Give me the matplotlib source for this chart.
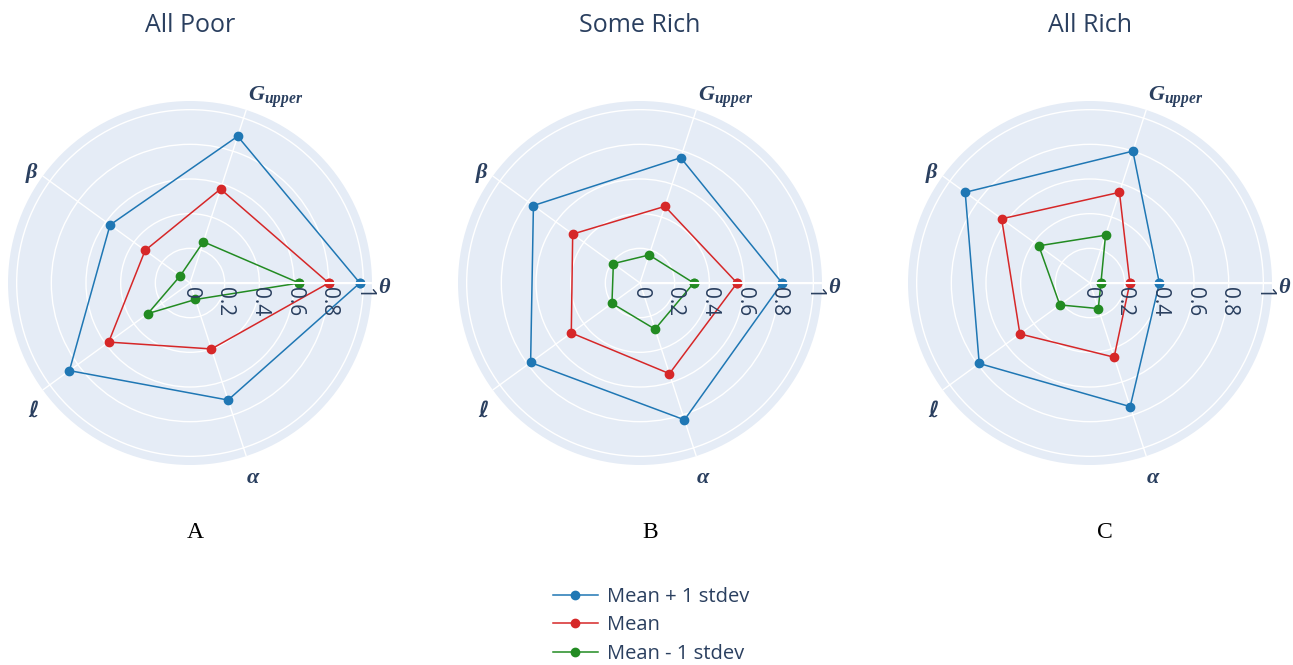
import numpy as np
import matplotlib
matplotlib.use('Agg')
import matplotlib.pyplot as plt
from matplotlib.lines import Line2D

# spoke labels (bold italic math)
plt.rcParams['mathtext.fontset'] = 'custom'
plt.rcParams['mathtext.it'] = 'Liberation Serif:italic:bold'
plt.rcParams['mathtext.rm'] = 'Liberation Serif:bold'

categories = [r'$\theta$', r'$G_{upper}$', r'$\beta$', '\u2113', r'$\alpha$']
panel_titles = ['All Poor', 'Some Rich', 'All Rich']
panel_letters = ['A', 'B', 'C']
series_names = ['Mean + 1 stdev', 'Mean', 'Mean - 1 stdev']
radial_ticks = [0, 0.2, 0.4, 0.6, 0.8, 1]

all_poor_plus = [0.98, 0.89, 0.57, 0.86, 0.71]
all_poor_mean = [0.80, 0.57, 0.32, 0.58, 0.40]
all_poor_minus = [0.63, 0.25, 0.07, 0.30, 0.10]

some_rich_plus = [0.82, 0.76, 0.76, 0.78, 0.83]
some_rich_mean = [0.56, 0.465, 0.48, 0.49, 0.55]
some_rich_minus = [0.31, 0.17, 0.19, 0.20, 0.28]

all_rich_plus = [0.40, 0.80, 0.89, 0.79, 0.75]
all_rich_mean = [0.23, 0.55, 0.63, 0.50, 0.45]
all_rich_minus = [0.063, 0.29, 0.365, 0.215, 0.155]

panels = [
    [all_poor_plus, all_poor_mean, all_poor_minus],
    [some_rich_plus, some_rich_mean, some_rich_minus],
    [all_rich_plus, all_rich_mean, all_rich_minus],
]

colors = ['#1f77b4', '#d62728', '#228b22']
text_color = '#2a3f5f'
bg_color = '#e5ecf6'
rmax = 1.05

W, H = 1293, 665
fig = plt.figure(figsize=(W / 100, H / 100), dpi=100)

centers_x = [190, 640, 1090]
center_y = 283
radius = 182

angles = np.deg2rad(np.arange(len(categories)) * 360 / len(categories))

# alignment of the spoke labels around the circle
label_align = [('left', 'center', (4, -3)),
               ('left', 'bottom', (1, 0)),
               ('right', 'center', (-3, 2)),
               ('right', 'top', (-3, -7)),
               ('left', 'top', (0, -7))]

for i, (cx, data) in enumerate(zip(centers_x, panels)):
    ax = fig.add_axes([(cx - radius) / W, (H - center_y - radius) / H,
                       2 * radius / W, 2 * radius / H], projection='polar')
    ax.set_facecolor(bg_color)
    ax.spines['polar'].set_visible(False)
    ax.set_ylim(0, rmax)
    ax.set_yticks(radial_ticks[1:])
    ax.set_yticklabels([])
    ax.set_xticks(angles)
    ax.set_xticklabels([])
    ax.grid(color='white', linewidth=1.0)
    ax.tick_params(length=0)

    t_closed = np.append(angles, angles[0])
    for vals, col in zip(data, colors):
        v = np.append(vals, vals[0])
        ax.plot(t_closed, v, color=col, linewidth=1.1, marker='o',
                markersize=6, clip_on=False, zorder=3)

    # radial axis line drawn above the traces
    ax.plot([0, 0], [0, rmax], color='white', linewidth=1.5, zorder=4)

    for r in radial_ticks:
        ax.annotate(f'{r:g}', xy=(0, r), xytext=(0, -3), textcoords='offset points',
                    rotation=-90, ha='center', va='top', fontsize=15,
                    family='Open Sans', color=text_color, zorder=5)

    for ang, lab, (ha, va, off) in zip(angles, categories, label_align):
        ax.annotate(lab, xy=(ang, rmax), xytext=off, textcoords='offset points',
                    ha=ha, va=va, fontsize=16, color=text_color,
                    family=['DejaVu Serif', 'DejaVu Sans'],
                    style='italic', weight='bold', annotation_clip=False)

    fig.text(cx / W, 1 - 25 / H, panel_titles[i], ha='center', va='center',
             fontsize=18, family='Open Sans', color=text_color)

letter_x = [195, 650, 1105]
for lx, letter in zip(letter_x, panel_letters):
    fig.text(lx / W, 1 - 532 / H, letter, ha='center', va='center',
             fontsize=17, family='Liberation Serif', color='black')

handles = [Line2D([0], [0], color=c, linewidth=1.1, marker='o', markersize=6)
           for c in colors]
fig.legend(handles, series_names, loc='center left',
           bbox_to_anchor=(553 / W, 1 - 625.5 / H), frameon=False,
           prop={'family': 'Open Sans', 'size': 14.5}, labelcolor=text_color,
           handlelength=2.23, handletextpad=0.45, labelspacing=0.42,
           borderpad=0, borderaxespad=0)

fig.savefig('out.png', dpi=100)
